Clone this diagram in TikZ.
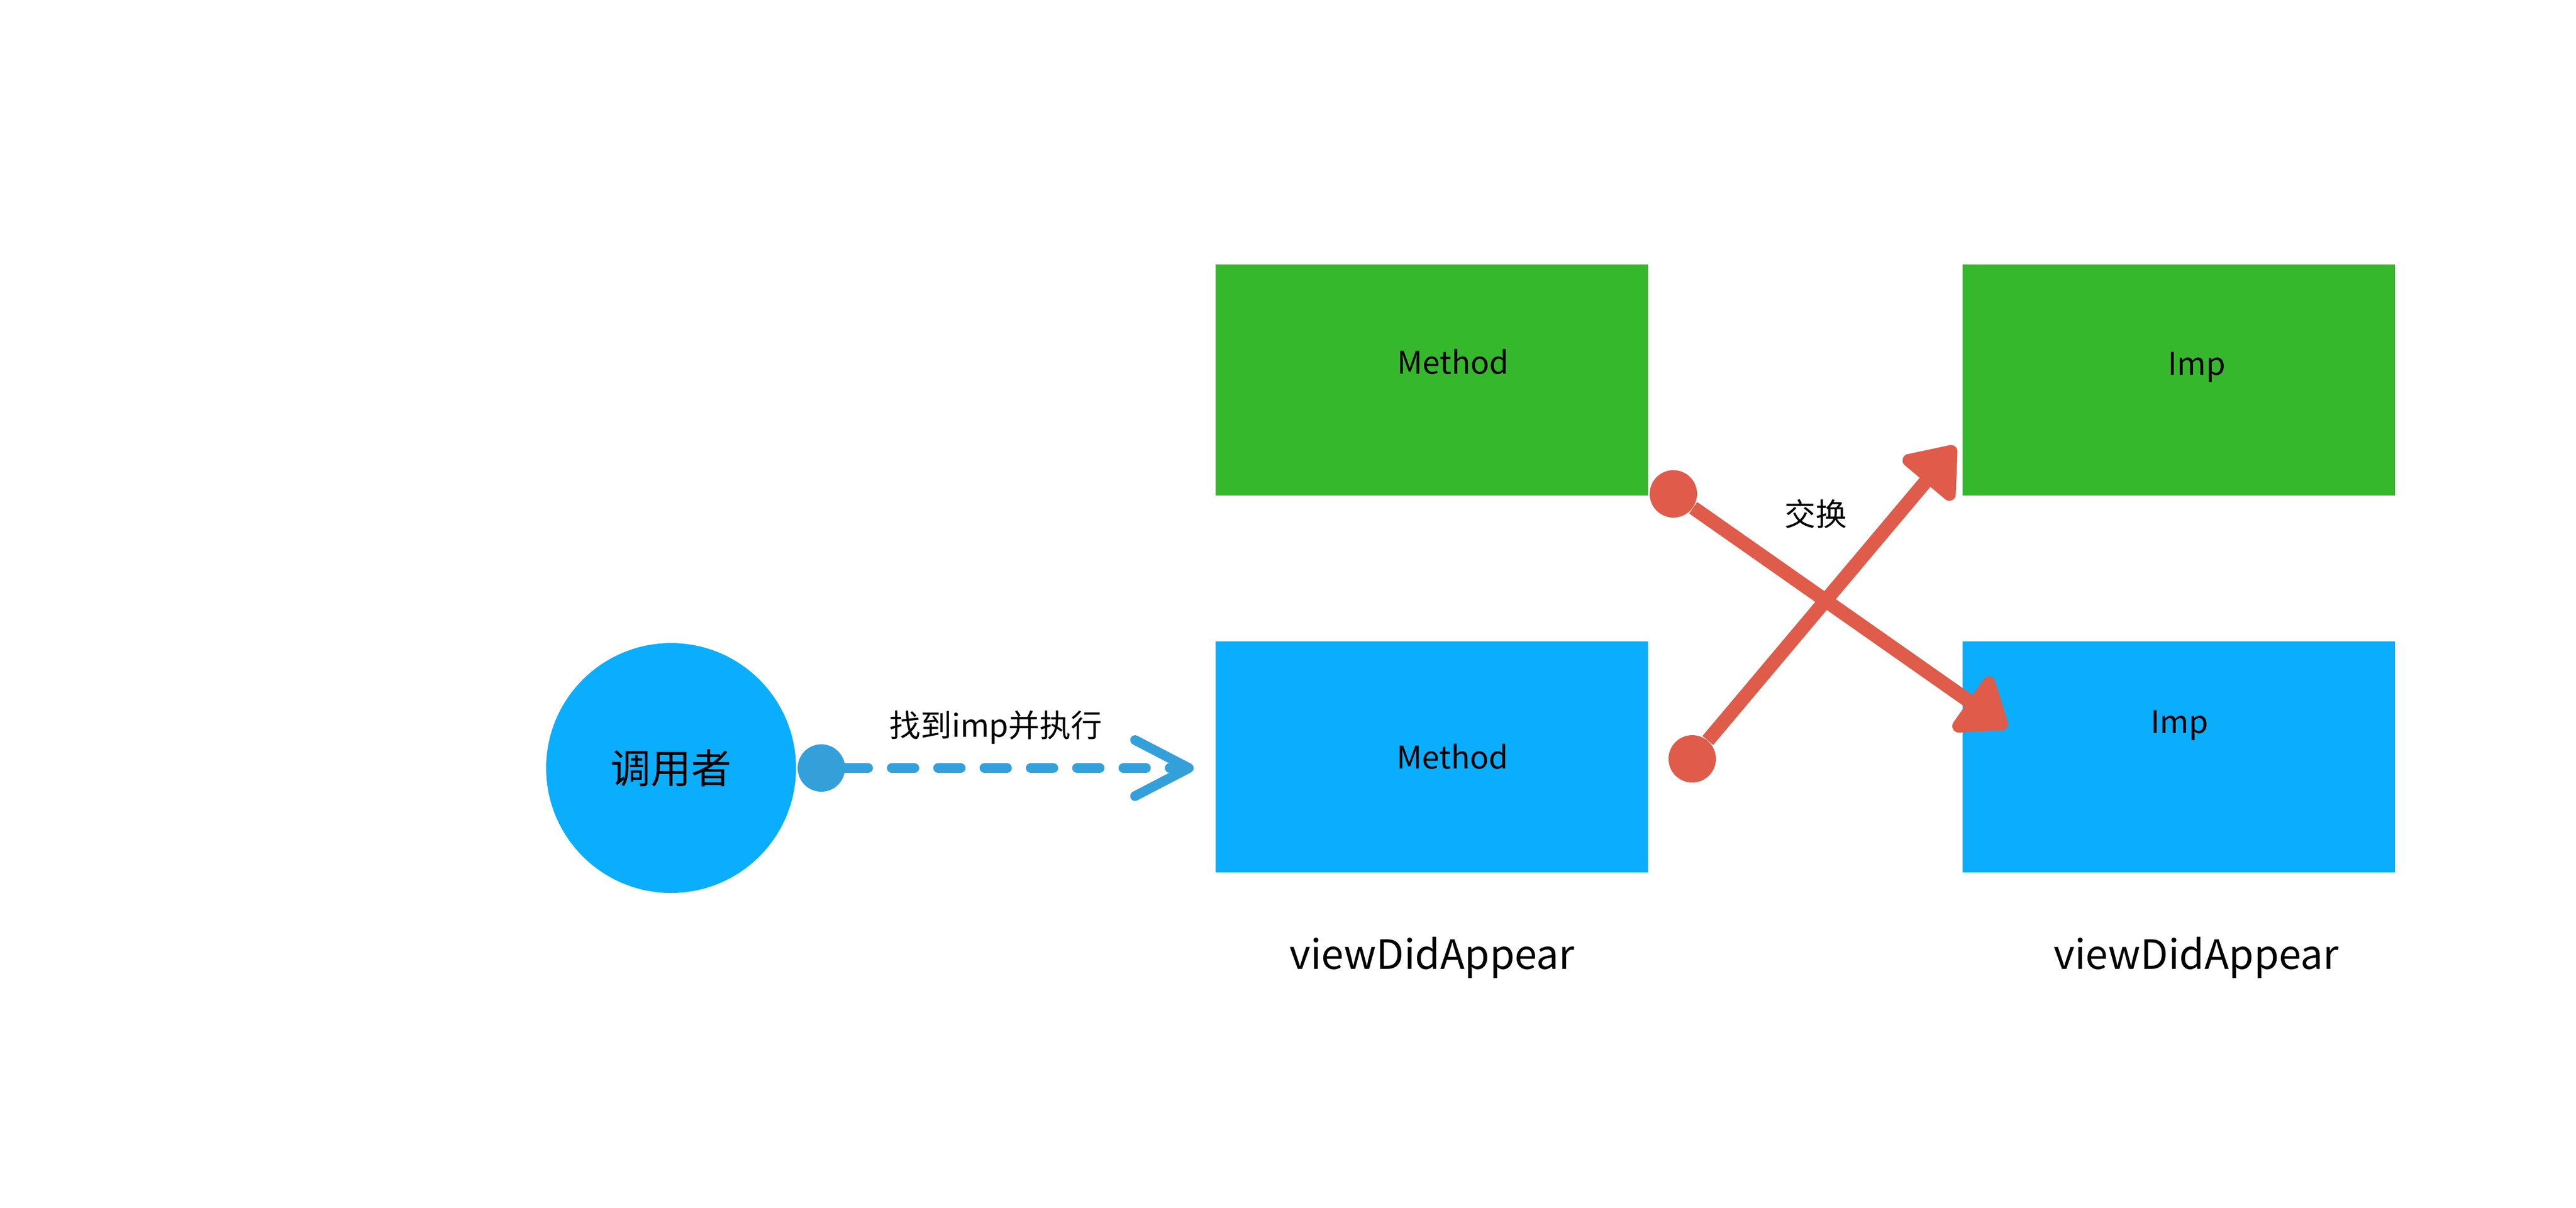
\documentclass[tikz,border=0pt]{standalone}
\usepackage{fontspec}
\setmainfont{Noto Sans CJK SC}
\usetikzlibrary{arrows.meta}
\definecolor{methodgreen}{HTML}{36B82C}
\definecolor{callblue}{HTML}{0AAEFC}
\definecolor{dashblue}{HTML}{34A0DA}
\definecolor{swapred}{HTML}{DF5B4A}

\begin{document}
\begin{tikzpicture}[scale=0.1]
\tikzstyle{every node}+=[inner sep=0pt]
\tikzstyle{box}=[rectangle, minimum width=8.03cm, minimum height=4.29cm]
\tikzstyle{dot}=[circle, minimum size=0.88cm]
\tikzstyle{lbl}=[font=\fontsize{16.5}{20}\selectfont, anchor=base]
\tikzstyle{sel}=[font=\fontsize{21.3}{26}\selectfont, anchor=base]
\useasboundingbox (0,0) rectangle (478.3,-224.2);
% caller
\node [circle, minimum size=4.64cm, fill=callblue, font=\fontsize{21.3}{26}\selectfont] (caller) at (124.6,-142.6) {调用者};
\node [dot, fill=dashblue] (d0) at (152.5,-142.6) {};
% boxes
\node [box, fill=methodgreen] (m1) at (265.85,-70.55) {};
\node [box, fill=callblue] (m2) at (265.85,-140.55) {};
\node [box, fill=methodgreen] (i1) at (404.55,-70.55) {};
\node [box, fill=callblue] (i2) at (404.55,-140.55) {};
\node [lbl] (m1txt) at (269.8,-69.4) {Method};
\node [lbl] (m2txt) at (269.7,-142.7) {Method};
\node [lbl] (i1txt) at (407.9,-69.6) {Imp};
\node [lbl] (i2txt) at (404.7,-136.1) {Imp};
\node [sel] (sel1) at (265.9,-179.9) {viewDidAppear};
\node [sel] (sel2) at (407.8,-179.9) {viewDidAppear};
% call
\draw [dashblue, line width=0.18cm, line cap=round, dash pattern=on 0.42cm off 0.44cm, shorten >=0.4cm, -{Straight Barb[length=1cm,width=1.04cm,round]}] (d0.east) -- (d0 -| m2.west);
\node [lbl] (findtxt) at (184.9,-136.8) {找到imp并执行};
% swap
\coordinate (t1) at (372.6,-135.1);
\coordinate (t2) at (363.0,-82.9);
\node [dot, fill=swapred] (r1) at (310.7,-91.7) {};
\node [dot, fill=swapred] (r2) at (314.2,-140.9) {};
\draw [swapred, line width=0.26cm, -{Triangle[length=0.95cm,width=1.4cm,round]}] (r1) -- (t1);
\draw [swapred, line width=0.26cm, -{Triangle[length=0.95cm,width=1.4cm,round]}] (r2) -- (t2);
\node [lbl] (swaptxt) at (337.1,-97.6) {交换};
\end{tikzpicture}
\end{document}
